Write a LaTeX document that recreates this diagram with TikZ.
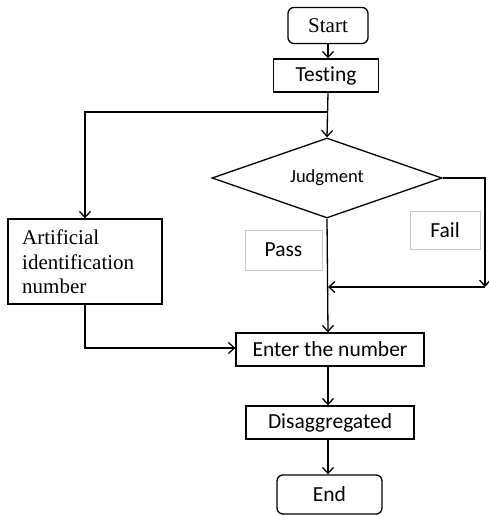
\documentclass[tikz,border=0pt]{standalone}
\usepackage{fontspec}
\setmainfont[Ligatures=NoCommon]{Carlito}
\newfontfamily\serifface{Liberation Serif}
\usetikzlibrary{arrows.meta,shapes.geometric}
\begin{document}
\begin{tikzpicture}[x=1pt,y=-1pt,
  every node/.style={font=\fontsize{21.5}{25}\selectfont, text=black},
  box/.style={draw, line width=1.3pt, rectangle, inner sep=0pt},
  rbox/.style={box, rounded corners=6pt},
  tagbox/.style={draw=black!22, line width=0.8pt, rectangle, inner sep=0pt},
  flow/.style={line width=1.3pt, -{Straight Barb[length=6pt,width=11pt,line width=1.3pt]}}]
  \useasboundingbox (0,0) rectangle (489,516);

  % main column
  \node[rbox, minimum width=80pt, minimum height=36pt, font=\serifface\fontsize{21}{24}\selectfont] (start) at (328,25.5) {Start};
  \node[box, minimum width=105pt, minimum height=33pt] (test) at (326,75.5) {Testing};
  \node[draw, line width=1.3pt, shape=diamond, aspect=2.875, minimum width=230pt, minimum height=80pt,
        inner sep=0pt, font=\fontsize{18.5}{20}\selectfont] (judge) at (327,178) {Judgment};
  \node[box, minimum width=188pt, minimum height=33pt] (enter) at (330,349.5) {Enter the number};
  \node[box, minimum width=168pt, minimum height=33pt] (disagg) at (330,422.5) {Disaggregated};
  \node[rbox, minimum width=105pt, minimum height=39pt] (end) at (329.5,494.5) {End};

  % manual branch
  \node[box, minimum width=154pt, minimum height=85pt] (manual) at (85,261.5) {};
  \node[anchor=west, align=left, inner sep=0pt, font=\serifface\fontsize{21}{24.5}\selectfont]
    (manualtxt) at (22,262) {Artificial\\identification\\number};

  % outcome labels
  \node[tagbox, minimum width=77pt, minimum height=40pt] (pass) at (283.5,250) {Pass};
  \node[tagbox, minimum width=70pt, minimum height=38pt] (fail) at (445,230) {Fail};

  % junction points
  \coordinate (split) at (328,112);
  \coordinate (failcorner) at (judge.east -| 485,0);
  \coordinate (faildown) at (485,287);
  \coordinate (merge) at (328,287);
  \coordinate (leftdrop) at (85,348);

  % connectors
  \draw[flow] (start.south -| 328,0) -- (test.north -| 328,0);
  \draw[flow] (test.south -| 328,0) -- (judge.north);
  \draw[flow] (split) -| (manual.north);
  \draw[flow] (manual.south) -- (leftdrop) -- (enter.west |- leftdrop);
  \draw[flow] (judge.south) -- (enter.north -| 328,0);
  \draw[flow] (judge.east) -- (failcorner) -- (faildown);
  \draw[flow] (faildown) -- (merge);
  \draw[flow] (enter.south -| 328,0) -- (disagg.north -| 328,0);
  \draw[flow] (disagg.south -| 328,0) -- (end.north -| 328,0);
\end{tikzpicture}
\end{document}
